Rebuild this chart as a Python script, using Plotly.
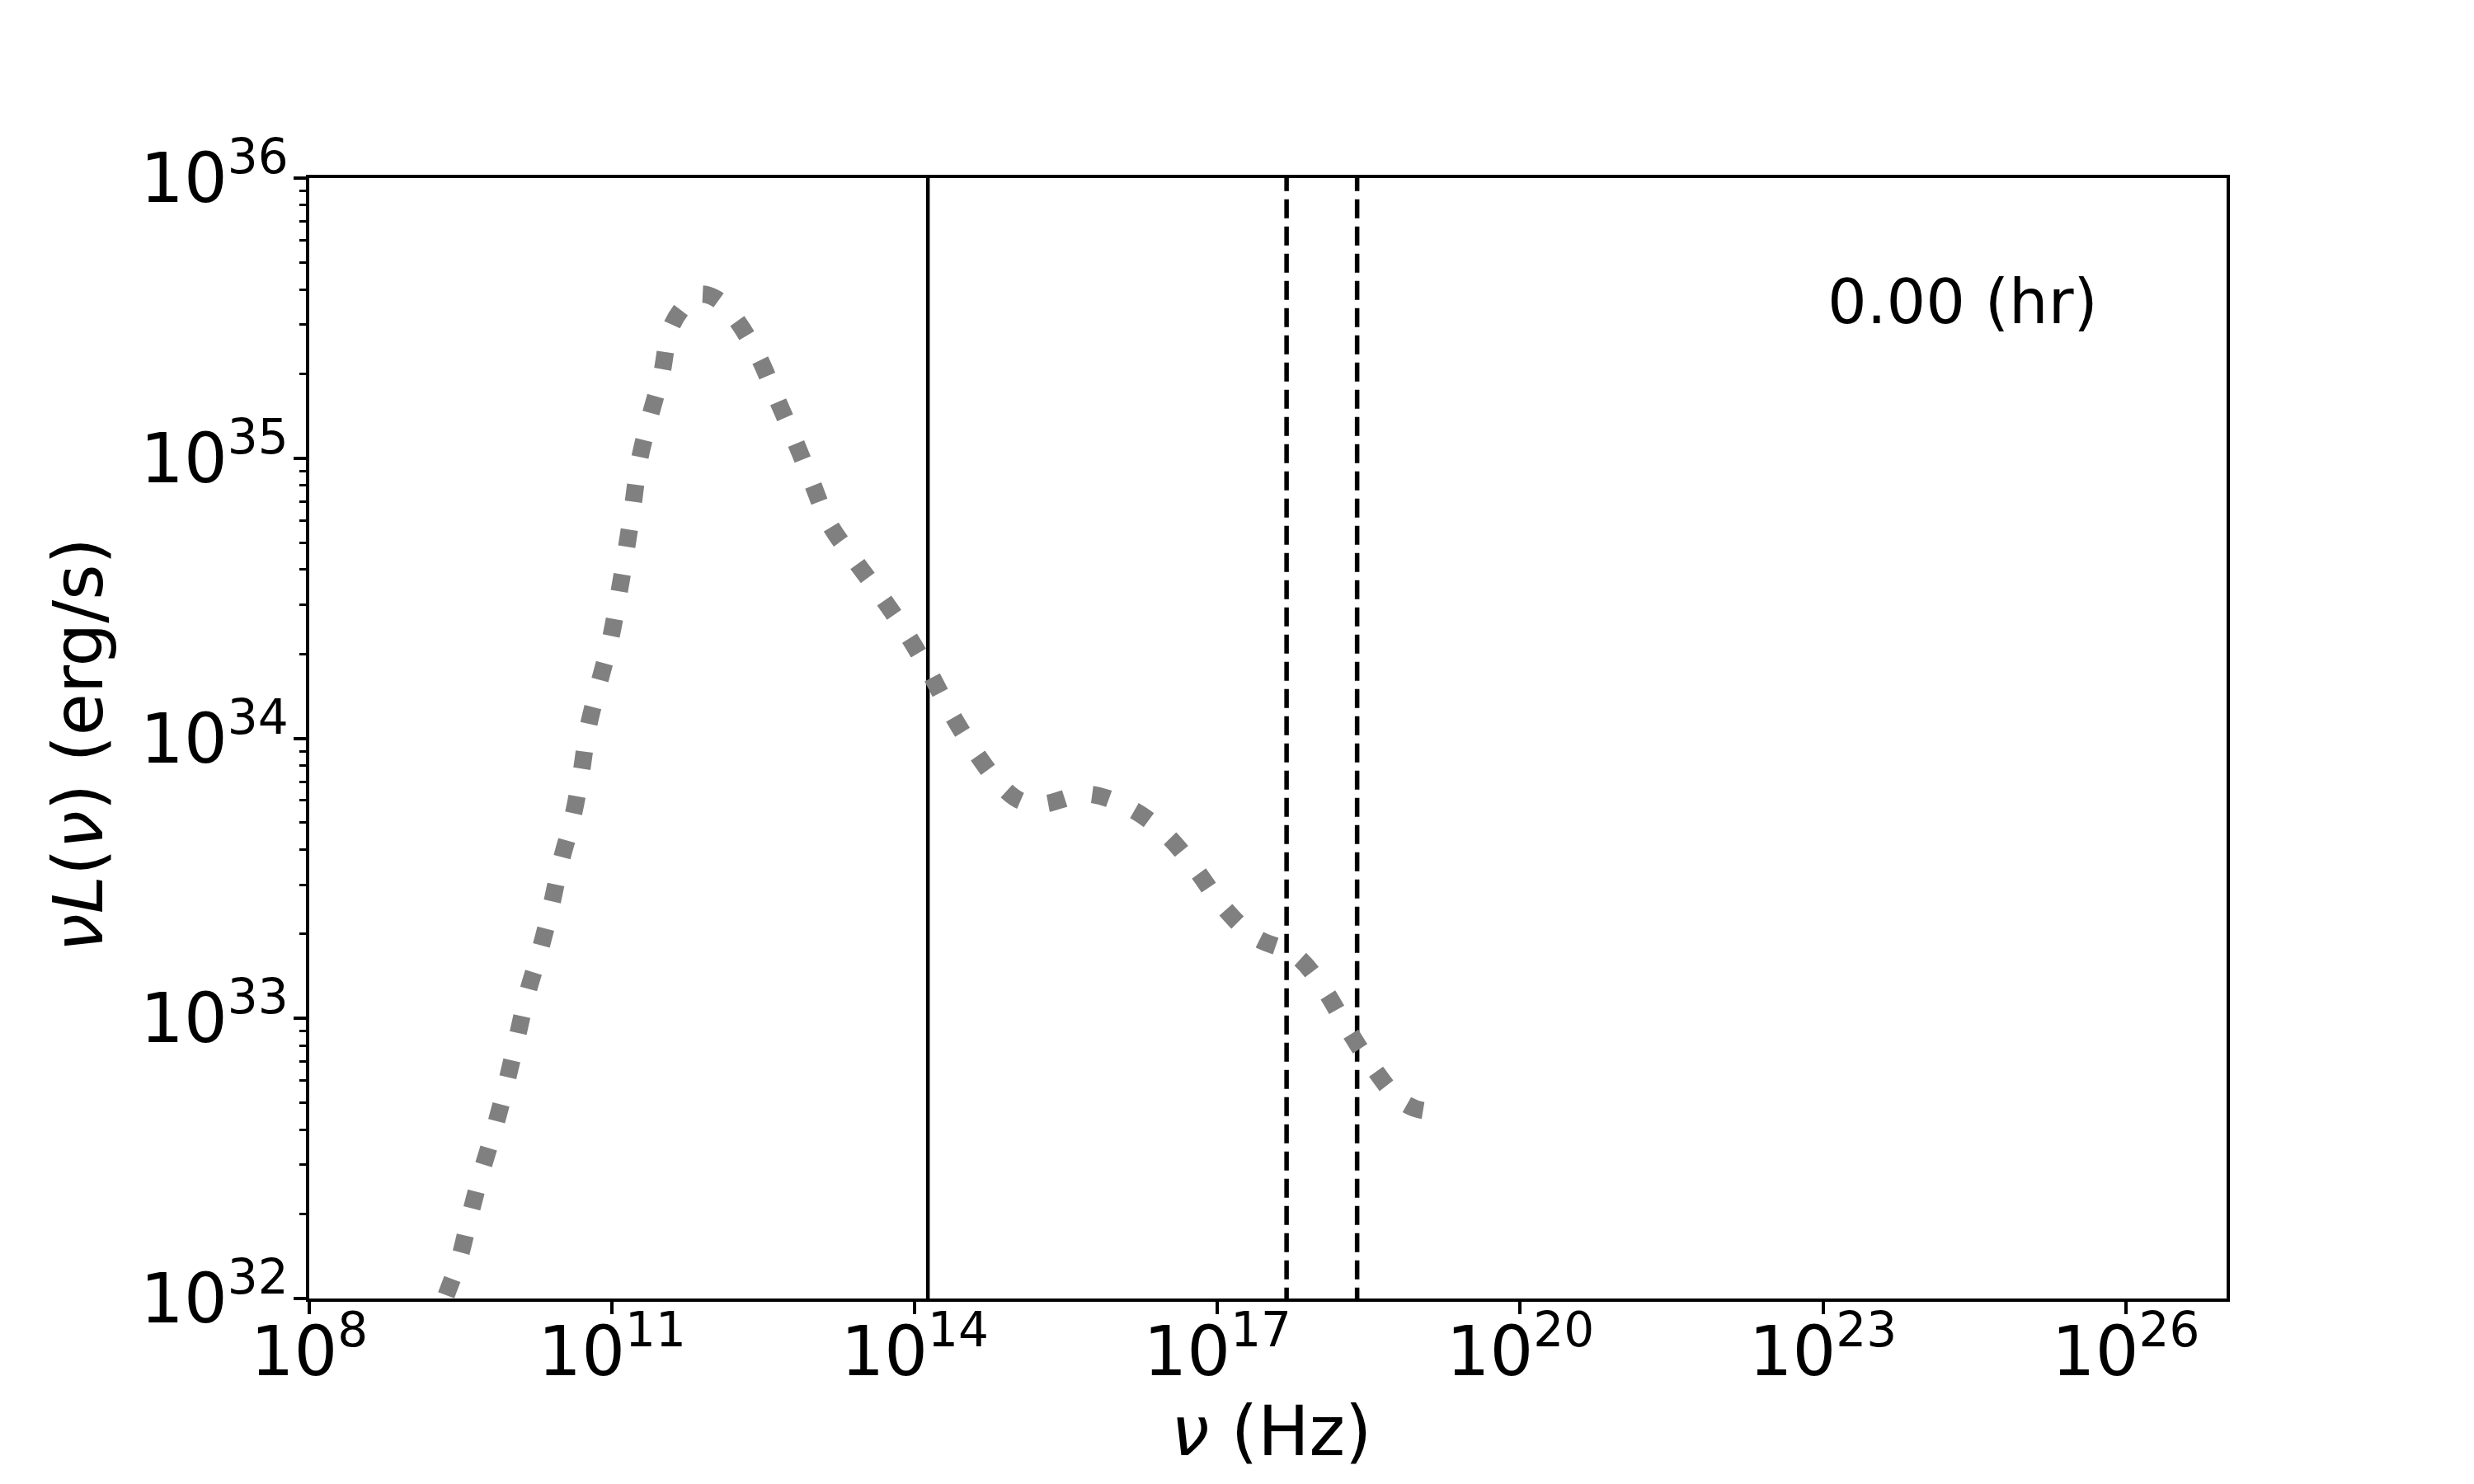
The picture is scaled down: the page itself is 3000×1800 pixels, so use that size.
import plotly.graph_objects as go

# SED curve (log10 nu [Hz], log10 nu L_nu [erg/s])
log_nu = [9.20, 9.348, 9.484, 9.593, 9.708, 9.838, 9.953, 10.055, 10.157, 10.284, 10.394,
          10.492, 10.606, 10.693, 10.761, 10.868, 10.982, 11.064, 11.137, 11.207, 11.268,
          11.374, 11.493, 11.578, 11.72, 11.864, 12.03, 12.208, 12.441, 12.624, 12.804, 12.975,
          13.147, 13.408, 13.666, 13.923, 14.144, 14.364, 14.601, 14.871, 15.06, 15.279,
          15.712, 16.129, 16.480, 16.783, 17.044, 17.363, 17.779, 18.057, 18.286,
          18.531, 18.817, 19.06, 19.29]
log_L = [31.86, 32.003, 32.138, 32.296, 32.453, 32.609, 32.768, 32.924, 33.083, 33.239, 33.395,
         33.557, 33.710, 33.872, 34.034, 34.191, 34.349, 34.508, 34.664, 34.830, 34.987,
         35.145, 35.302, 35.461, 35.545, 35.585, 35.57, 35.506, 35.370, 35.220, 35.070, 34.920,
         34.770, 34.634, 34.508, 34.372, 34.237, 34.087, 33.951, 33.825, 33.775, 33.766,
         33.801, 33.751, 33.660, 33.533, 33.404, 33.292, 33.224, 33.104, 32.965,
         32.830, 32.706, 32.67, 32.685]

# Vertical reference frequencies (Hz)
solid_line_nu = [1.35e14]
dashed_line_nu = [4.84e17, 2.42e18]

x_tick_exp = [8, 11, 14, 17, 20, 23, 26]
y_tick_exp = [32, 33, 34, 35, 36]
time_label = "0.00 (hr)"

nu = [10.0 ** v for v in log_nu]
L = [10.0 ** v for v in log_L]

FONT = "DejaVu Sans"
fig = go.Figure()

for v in solid_line_nu:
    fig.add_trace(go.Scatter(x=[v, v], y=[1e31, 1e37], mode="lines",
                             line=dict(color="black", width=4.5), showlegend=False))
for v in dashed_line_nu:
    fig.add_trace(go.Scatter(x=[v, v], y=[1e31, 1e37], mode="lines",
                             line=dict(color="black", width=5.5, dash="23px,10px"),
                             showlegend=False))

fig.add_trace(go.Scatter(x=nu, y=L, mode="lines",
                         line=dict(color="#808080", width=21, dash="21px,34px", shape="spline"),
                         showlegend=False))

minor_y = [float(m) * 10.0 ** e for e in range(32, 36) for m in range(2, 10)]

fig.update_layout(
    width=3000, height=1800,
    margin=dict(l=367, r=308, t=208, b=233),
    paper_bgcolor="white", plot_bgcolor="white",
    font=dict(family=FONT, color="black"),
    xaxis=dict(type="log", range=[8, 27], showgrid=False, zeroline=False,
               showline=True, mirror=True, linecolor="black", linewidth=3.5,
               ticks="outside", ticklen=15, tickwidth=3.5, tickcolor="black",
               ticklabelstandoff=-25,
               tickmode="array", tickvals=[10.0 ** e for e in x_tick_exp],
               ticktext=[f"10<sup>{e}</sup>" for e in x_tick_exp],
               tickfont=dict(family=FONT, size=83, color="black")),
    yaxis=dict(type="log", range=[32, 36], showgrid=False, zeroline=False,
               showline=True, mirror=True, linecolor="black", linewidth=3.5,
               ticks="outside", ticklen=15, tickwidth=3.5, tickcolor="black",
               ticklabelstandoff=-10,
               tickmode="array", tickvals=[10.0 ** e for e in y_tick_exp],
               ticktext=[f"10<sup>{e}</sup>" for e in y_tick_exp],
               tickfont=dict(family=FONT, size=83, color="black"),
               minor=dict(tickmode="array", tickvals=minor_y, ticks="outside",
                          ticklen=8, tickwidth=2.5, tickcolor="black", showgrid=False)),
    annotations=[
        dict(text=time_label, xref="paper", yref="paper", x=0.791, y=0.8896,
             xanchor="left", yanchor="middle", showarrow=False,
             font=dict(family=FONT, size=75, color="black")),
        dict(text="<i>ν</i> (Hz)", xref="paper", yref="paper", x=0.502, y=-0.119,
             xanchor="center", yanchor="middle", showarrow=False,
             font=dict(family=FONT, size=83, color="black")),
        dict(text="<i>νL</i>(<i>ν</i>) (erg/s)", xref="paper", yref="paper",
             x=-0.12, y=0.494, xanchor="center", yanchor="middle", textangle=-90,
             showarrow=False, font=dict(family=FONT, size=83, color="black")),
    ],
)

fig.write_html("out.html")
